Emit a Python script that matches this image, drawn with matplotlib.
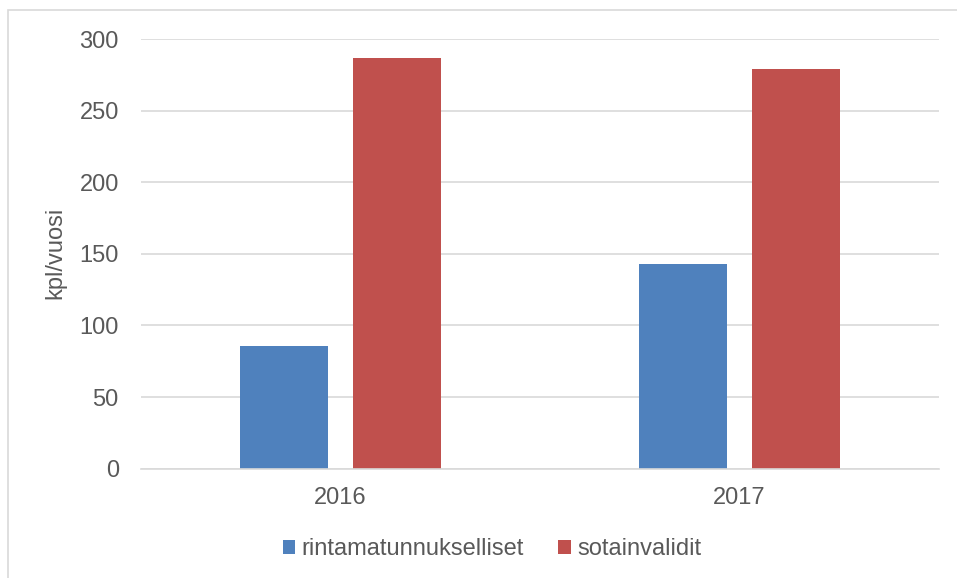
import matplotlib
matplotlib.use('Agg')
import matplotlib.pyplot as plt
from matplotlib.patches import Rectangle
import numpy as np

plt.rcParams['font.family'] = ['Liberation Sans', 'DejaVu Sans']

# data
years = ['2016', '2017']
rintamatunnukselliset = [86, 143]
sotainvalidit = [287, 279]
yticks = [0, 50, 100, 150, 200, 250, 300]

W, H = 957, 578
fig = plt.figure(figsize=(W / 100, H / 100), dpi=100)

# outer chart border (cut off at right/bottom like the screenshot)
fig.patches.append(Rectangle((8 / W, -0.1), 2, 1 - 10 / H + 0.1,
                             transform=fig.transFigure, fill=False,
                             edgecolor='#d9d9d9', linewidth=1.2))

ax = fig.add_axes([141 / W, (H - 468.7) / H, (939 - 141) / W, (468.7 - 39) / H])

txt = '#595959'
fs = 17
x = np.arange(len(years))
w = 0.222
ax.bar(x - 0.142, rintamatunnukselliset, w, color='#4f81bd', label='rintamatunnukselliset', zorder=3)
ax.bar(x + 0.142, sotainvalidit, w, color='#c0504d', label='sotainvalidit', zorder=3)

ax.set_xlim(-0.5, 1.5)
ax.set_ylim(0, 300)
ax.set_yticks(yticks)
ax.set_xticks(x)
ax.set_xticklabels(years)
ax.yaxis.grid(True, color='#d9d9d9', linewidth=1.2, zorder=0)
ax.tick_params(axis='both', length=0, labelsize=fs, labelcolor=txt)
ax.tick_params(axis='y', pad=16)
ax.tick_params(axis='x', pad=13)
for s in ['top', 'right', 'left']:
    ax.spines[s].set_visible(False)
ax.spines['bottom'].set_color('#d9d9d9')
ax.spines['bottom'].set_linewidth(1.2)
ax.spines['bottom'].set_zorder(4)

fig.text(55 / W, 1 - 253 / H, 'kpl/vuosi', rotation=90, ha='center', va='center',
         fontsize=fs, color=txt)

leg = fig.legend(loc='center', bbox_to_anchor=(492 / W, 1 - 549 / H), ncol=2,
                 frameon=False, fontsize=fs, handlelength=0.54, handleheight=0.54,
                 handletextpad=0.27, columnspacing=1.45)
for t in leg.get_texts():
    t.set_color(txt)

fig.savefig('out.png', dpi=100)
